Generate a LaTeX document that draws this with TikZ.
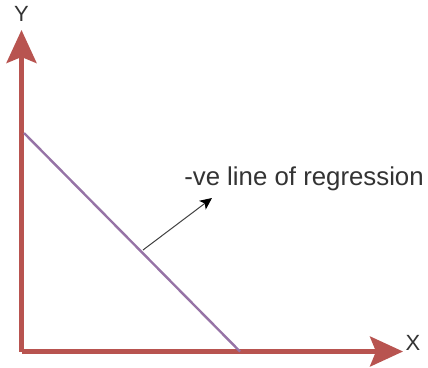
\documentclass[tikz,border=0pt]{standalone}
\usepackage{fontspec}
\setmainfont{Liberation Sans}
\usetikzlibrary{arrows.meta}
\definecolor{axisred}{HTML}{B85450}
\definecolor{regpurple}{HTML}{9673A6}
\definecolor{labelgray}{HTML}{333333}
\tikzset{
  axis/.style={draw=axisred, line width=4.5pt, -{Stealth[length=33pt,width=30pt,inset=6pt]}},
  regline/.style={draw=regpurple, line width=2.4pt},
  pointer/.style={draw=black!75, line width=1pt, -{Stealth[length=12pt,width=11pt,inset=3pt,fill=black,color=black]}},
  lbl/.style={text=labelgray, inner sep=0pt, font=\fontsize{22}{26}\selectfont},
}
\begin{document}
\begin{tikzpicture}[x=1pt,y=-1pt]
\useasboundingbox (0,0) rectangle (428,367);
\coordinate (O) at (21.5,351.5);
\coordinate (Ytip) at (21.5,30);
\coordinate (Xtip) at (403,351.5);
\coordinate (Rs) at (24,133);
\coordinate (Re) at (240,351.5);
\coordinate (Pa) at (143,250);
\coordinate (Pb) at (212,198);
\draw[axis] (O) -- (Ytip);
\draw[axis] (O) -- (Xtip);
\draw[regline] (Rs) -- (Re);
\draw[pointer] (Pa) -- (Pb);
\node[lbl] (ylab) at (21.5,14) {Y};
\node[lbl] (xlab) at (413,343) {X};
\node[lbl, font=\fontsize{25.8}{30}\selectfont] (txt) at (304,179) {-ve line of regression};
\end{tikzpicture}
\end{document}
